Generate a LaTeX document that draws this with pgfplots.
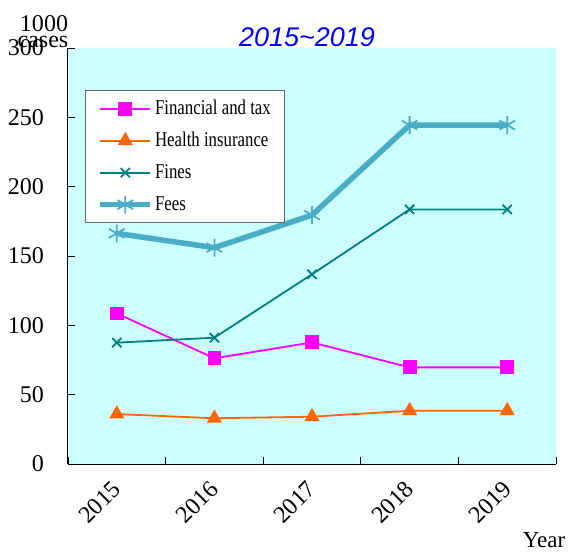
\documentclass[border=0pt]{standalone}
\usepackage{fontspec}
\setmainfont{Liberation Serif}
\newfontfamily\titlefont{Liberation Sans}
\newfontfamily\legfont[FakeStretch=0.8]{Liberation Serif}
\usepackage{pgfplots}
\pgfplotsset{compat=1.18}
\definecolor{bgc}{RGB}{204,255,255}
\definecolor{finc}{RGB}{255,0,255}
\definecolor{healc}{RGB}{255,102,0}
\definecolor{finec}{RGB}{0,128,128}
\definecolor{feec}{RGB}{75,172,198}
\begin{document}
\begin{tikzpicture}
\path[use as bounding box] (-68pt,-87pt) rectangle (501pt,464pt);
\begin{axis}[
  scale only axis,
  width=488pt, height=416pt,
  at={(0pt,0pt)}, anchor=south west,
  xmin=-0.5, xmax=4.5, ymin=0, ymax=300,
  axis x line=bottom, axis y line=left,
  axis line style={-, line width=1pt, black},
  axis background/.style={fill=bgc},
  xtick={0,1,2,3,4},
  xticklabels={2015,2016,2017,2018,2019},
  minor xtick={-0.5,0.5,1.5,2.5,3.5,4.5},
  ytick={0,50,100,150,200,250,300},
  minor ytick={0,50,100,150,200,250,300},
  tick align=inside,
  major tick length=0pt,
  minor tick length=7pt,
  every tick/.style={black, line width=0.8pt},
  /pgf/number format/assume math mode=true,
  tick label style={font=\fontsize{24}{28}\selectfont, inner sep=0pt},
  xticklabel style={rotate=45, anchor=east, yshift=-15pt, xshift=-15pt},
  yticklabel style={xshift=-24pt},
  legend style={at={(axis description cs:0.0348,0.899)}, anchor=north west,
    draw=gray!80!black, line width=1.2pt, fill=white,
    font=\legfont\fontsize{21}{24}\selectfont, row sep=11pt,
    inner xsep=12pt, inner ysep=7.5pt,
    nodes={inner sep=2pt, text height=14pt, text depth=3pt}},
  legend cell align=left,
  legend image code/.code={\draw[mark repeat=2,mark phase=2,#1] plot coordinates {(0pt,0pt)(25pt,0pt)(50pt,0pt)};},
]
\addplot[finc, line width=1.8pt, mark=square*, mark size=6pt, mark options={solid}] coordinates {(0,108.6)(1,76.2)(2,87.7)(3,69.7)(4,69.7)};
\addlegendentry{Financial and tax}
\addplot[healc, line width=1.8pt, mark=triangle*, mark size=7pt, mark options={solid}] coordinates {(0,36)(1,33)(2,34.1)(3,38.4)(4,38.4)};
\addlegendentry{Health insurance}
\addplot[finec, line width=1.8pt, mark=x, mark size=6.5pt, mark options={solid, line width=1.8pt}] coordinates {(0,87.5)(1,91.1)(2,136.8)(3,183.6)(4,183.6)};
\addlegendentry{Fines}
\addplot[feec, line width=5.5pt, mark=asterisk, mark size=9pt, mark options={solid, line width=1.8pt}] coordinates {(0,166.3)(1,156)(2,179.5)(3,244.4)(4,244.4)};
\addlegendentry{Fees}
\end{axis}
\node[font=\titlefont\itshape\fontsize{27}{31}\selectfont, text=blue] at (239pt,427pt) {2015\textasciitilde2019};
\node[font=\fontsize{24}{28}\selectfont, anchor=base] at (-24pt,432pt) {1000};
\node[font=\fontsize{24}{28}\selectfont, anchor=base] at (-25pt,416pt) {cases};
\node[font=\fontsize{23}{27}\selectfont] at (476pt,-76pt) {Year};
\end{tikzpicture}
\end{document}
